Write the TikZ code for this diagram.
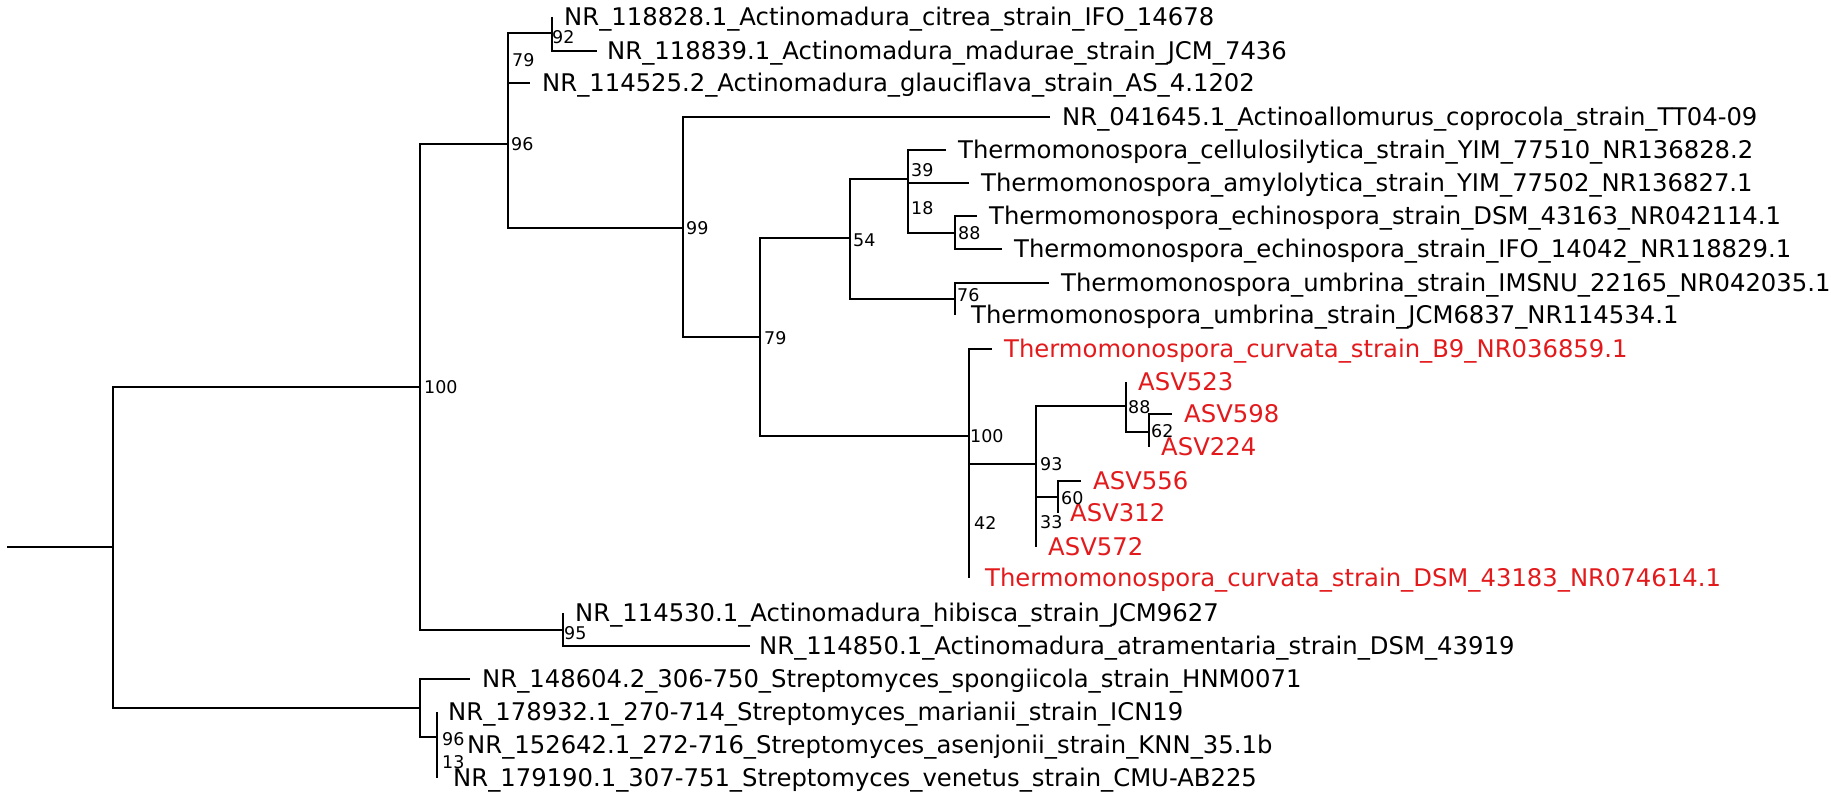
\documentclass[tikz,border=0pt]{standalone}
\usepackage{fontspec}
\setmainfont{DejaVu Sans}
\usepackage{tikz}
\usetikzlibrary{positioning}
\definecolor{TreeInk}{HTML}{000000}
\definecolor{QueryRed}{HTML}{E31A1C}
\tikzset{
  branch/.style={line width=2.6pt,draw=TreeInk},
  leaf/.style={anchor=west,inner sep=0pt,xshift=12pt,text=TreeInk,
    font=\fontsize{24.3}{28}\selectfont,text height=17.7pt,text depth=0pt},
  query/.style={leaf,text=QueryRed},
  boot/.style={anchor=west,inner sep=0pt,text=TreeInk,
    font=\fontsize{17.5}{20}\selectfont,text height=12.8pt,text depth=0pt}
}

\begin{document}
\begin{tikzpicture}[x=1pt,y=-1pt]
  \useasboundingbox (0,0) rectangle (1831,805);
  \coordinate (base) at (7,547);
  \coordinate (root) at (113,547);
  \coordinate (n100) at (420,387);
  \coordinate (strep) at (420,708);
  \coordinate (n96) at (508,144);
  \coordinate (n79) at (508,58);
  \coordinate (n92) at (552,33);
  \coordinate (citrea) at (552,17);
  \coordinate (madurae) at (597,51);
  \coordinate (glauci) at (530,83);
  \coordinate (n99) at (683,228);
  \coordinate (coproc) at (1050,117);
  \coordinate (n79b) at (760,337);
  \coordinate (n54) at (850,238);
  \coordinate (n39) at (908,179);
  \coordinate (cellu) at (946,150);
  \coordinate (n18) at (908,208);
  \coordinate (amylo) at (969,183);
  \coordinate (n88) at (955,233);
  \coordinate (echiD) at (977,216);
  \coordinate (echiI) at (1002,249);
  \coordinate (n76) at (955,299);
  \coordinate (umbrI) at (1049,283);
  \coordinate (umbrJ) at (955,315);
  \coordinate (n100c) at (969,436);
  \coordinate (curvB) at (992,349);
  \coordinate (n42) at (969,521);
  \coordinate (curvD) at (969,578);
  \coordinate (n93) at (1036,464);
  \coordinate (n88b) at (1126,406);
  \coordinate (asv523) at (1126,382);
  \coordinate (n62) at (1149,432);
  \coordinate (asv598) at (1172,414);
  \coordinate (asv224) at (1149,447);
  \coordinate (n33) at (1036,522);
  \coordinate (n60) at (1058,497);
  \coordinate (asv556) at (1081,481);
  \coordinate (asv312) at (1058,513);
  \coordinate (asv572) at (1036,547);
  \coordinate (n95) at (563,630);
  \coordinate (hibis) at (563,613);
  \coordinate (atram) at (750,646);
  \coordinate (spong) at (470,679);
  \coordinate (n13) at (437,737);
  \coordinate (n96s) at (437,728);
  \coordinate (maria) at (437,712);
  \coordinate (asenj) at (437,745);
  \coordinate (venet) at (437,778);

  \draw[branch] (base) -- (root);
  \draw[branch] (n100) -| (root) |- (strep);
  \draw[branch] (n96) -| (n100) |- (n95);
  \draw[branch] (n79) -- (n96) |- (n99);
  \draw[branch] (n92) -| (n79) |- (glauci);
  \draw[branch] (citrea) -- (n92) |- (madurae);
  \draw[branch] (coproc) -| (n99) |- (n79b);
  \draw[branch] (n54) -| (n79b) |- (n100c);
  \draw[branch] (n39) -| (n54) |- (n76);
  \draw[branch] (cellu) -| (n39) -- (n18);
  \draw[branch] (amylo) -| (n18) |- (n88);
  \draw[branch] (echiD) -| (n88) |- (echiI);
  \draw[branch] (umbrI) -| (n76) -- (umbrJ);
  \draw[branch] (curvB) -| (n100c) -- (n42);
  \draw[branch] (n93) -| (n42) -- (curvD);
  \draw[branch] (n88b) -| (n93) -- (n33);
  \draw[branch] (asv523) -- (n88b) |- (n62);
  \draw[branch] (asv598) -| (n62) -- (asv224);
  \draw[branch] (n60) -| (n33) -- (asv572);
  \draw[branch] (asv556) -| (n60) -- (asv312);
  \draw[branch] (hibis) -- (n95) |- (atram);
  \draw[branch] (spong) -| (strep) |- (n13);
  \draw[branch] (n96s) -- (n13) -- (venet);
  \draw[branch] (maria) -- (n96s) -- (asenj);

  \node[leaf] (tcitrea) at (citrea) {NR\_118828.1\_Actinomadura\_citrea\_strain\_IFO\_14678};
  \node[leaf,xshift=-2pt] (tmadurae) at (madurae) {NR\_118839.1\_Actinomadura\_madurae\_strain\_JCM\_7436};
  \node[leaf] (tglauci) at (glauci) {NR\_114525.2\_Actinomadura\_glauciflava\_strain\_AS\_4.1202};
  \node[leaf] (tcoproc) at (coproc) {NR\_041645.1\_Actinoallomurus\_coprocola\_strain\_TT04-09};
  \node[leaf] (tcellu) at (cellu) {Thermomonospora\_cellulosilytica\_strain\_YIM\_77510\_NR136828.2};
  \node[leaf] (tamylo) at (amylo) {Thermomonospora\_amylolytica\_strain\_YIM\_77502\_NR136827.1};
  \node[leaf] (techiD) at (echiD) {Thermomonospora\_echinospora\_strain\_DSM\_43163\_NR042114.1};
  \node[leaf] (techiI) at (echiI) {Thermomonospora\_echinospora\_strain\_IFO\_14042\_NR118829.1};
  \node[leaf] (tumbrI) at (umbrI) {Thermomonospora\_umbrina\_strain\_IMSNU\_22165\_NR042035.1};
  \node[leaf,xshift=4pt] (tumbrJ) at (umbrJ) {Thermomonospora\_umbrina\_strain\_JCM6837\_NR114534.1};
  \node[query] (tcurvB) at (curvB) {Thermomonospora\_curvata\_strain\_B9\_NR036859.1};
  \node[query] (tasv523) at (asv523) {ASV523};
  \node[query] (tasv598) at (asv598) {ASV598};
  \node[query] (tasv224) at (asv224) {ASV224};
  \node[query] (tasv556) at (asv556) {ASV556};
  \node[query] (tasv312) at (asv312) {ASV312};
  \node[query] (tasv572) at (asv572) {ASV572};
  \node[query,xshift=4pt] (tcurvD) at (curvD) {Thermomonospora\_curvata\_strain\_DSM\_43183\_NR074614.1};
  \node[leaf] (thibis) at (hibis) {NR\_114530.1\_Actinomadura\_hibisca\_strain\_JCM9627};
  \node[leaf,xshift=-3pt] (tatram) at (atram) {NR\_114850.1\_Actinomadura\_atramentaria\_strain\_DSM\_43919};
  \node[leaf] (tspong) at (spong) {NR\_148604.2\_306-750\_Streptomyces\_spongiicola\_strain\_HNM0071};
  \node[leaf,xshift=-1pt] (tmaria) at (maria) {NR\_178932.1\_270-714\_Streptomyces\_marianii\_strain\_ICN19};
  \node[leaf,xshift=18pt] (tasenj) at (asenj) {NR\_152642.1\_272-716\_Streptomyces\_asenjonii\_strain\_KNN\_35.1b};
  \node[leaf,xshift=4pt] (tvenet) at (venet) {NR\_179190.1\_307-751\_Streptomyces\_venetus\_strain\_CMU-AB225};

  \node[boot] (b100) at (424,387) {100};
  \node[boot] (b96) at (511,144) {96};
  \node[boot] (b79) at (512,60) {79};
  \node[boot] (b92) at (552,37) {92};
  \node[boot] (b99) at (686,228) {99};
  \node[boot] (b79b) at (764,338) {79};
  \node[boot] (b54) at (853,240) {54};
  \node[boot] (b39) at (911,170) {39};
  \node[boot] (b18) at (911,208) {18};
  \node[boot] (b88) at (958,233) {88};
  \node[boot] (b76) at (957,295) {76};
  \node[boot] (b100c) at (970,436) {100};
  \node[boot] (b42) at (974,523) {42};
  \node[boot] (b93) at (1040,464) {93};
  \node[boot] (b88b) at (1128,407) {88};
  \node[boot] (b62) at (1151,431) {62};
  \node[boot] (b60) at (1061,498) {60};
  \node[boot] (b33) at (1040,522) {33};
  \node[boot] (b95) at (564,633) {95};
  \node[boot] (b96s) at (442,739) {96};
  \node[boot] (b13) at (442,762) {13};
\end{tikzpicture}
\end{document}
